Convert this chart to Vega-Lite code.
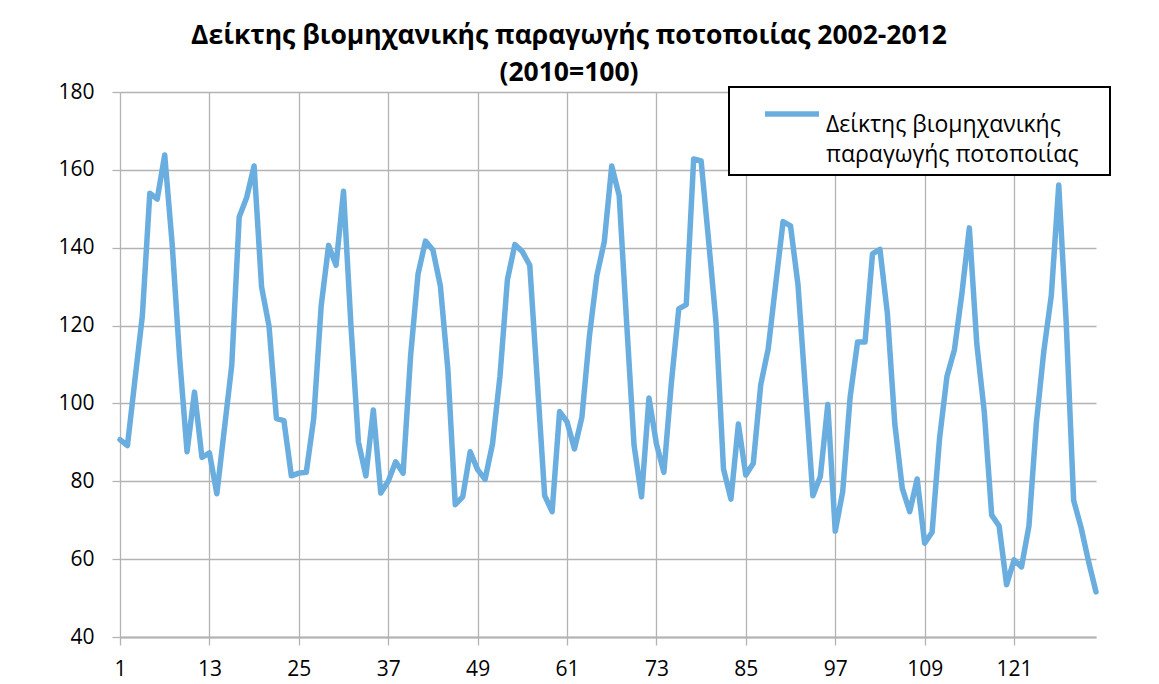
{
  "$schema": "https://vega.github.io/schema/vega-lite/v6.json",
  "width": 976,
  "height": 545,
  "autosize": {"type": "none"},
  "padding": {"left": 120, "top": 92, "right": 63, "bottom": 47},
  "background": "white",
  "title": {
    "text": ["Δείκτης βιομηχανικής παραγωγής ποτοποιίας 2002-2012", "(2010=100)"],
    "fontSize": 26.5,
    "fontWeight": "bold",
    "font": "Open Sans",
    "color": "black",
    "anchor": "middle",
    "dx": -39,
    "lineHeight": 37,
    "offset": -5
  },
  "data": {
    "values": [
      {"m": 1, "v": 90.7, "s": "Δείκτης βιομηχανικής παραγωγής ποτοποιίας"},
      {"m": 2, "v": 89.2, "s": "Δείκτης βιομηχανικής παραγωγής ποτοποιίας"},
      {"m": 3, "v": 106, "s": "Δείκτης βιομηχανικής παραγωγής ποτοποιίας"},
      {"m": 4, "v": 122.5, "s": "Δείκτης βιομηχανικής παραγωγής ποτοποιίας"},
      {"m": 5, "v": 154, "s": "Δείκτης βιομηχανικής παραγωγής ποτοποιίας"},
      {"m": 6, "v": 152.5, "s": "Δείκτης βιομηχανικής παραγωγής ποτοποιίας"},
      {"m": 7, "v": 163.8, "s": "Δείκτης βιομηχανικής παραγωγής ποτοποιίας"},
      {"m": 8, "v": 141, "s": "Δείκτης βιομηχανικής παραγωγής ποτοποιίας"},
      {"m": 9, "v": 111.7, "s": "Δείκτης βιομηχανικής παραγωγής ποτοποιίας"},
      {"m": 10, "v": 87.6, "s": "Δείκτης βιομηχανικής παραγωγής ποτοποιίας"},
      {"m": 11, "v": 102.9, "s": "Δείκτης βιομηχανικής παραγωγής ποτοποιίας"},
      {"m": 12, "v": 86.1, "s": "Δείκτης βιομηχανικής παραγωγής ποτοποιίας"},
      {"m": 13, "v": 87.3, "s": "Δείκτης βιομηχανικής παραγωγής ποτοποιίας"},
      {"m": 14, "v": 76.8, "s": "Δείκτης βιομηχανικής παραγωγής ποτοποιίας"},
      {"m": 15, "v": 93.3, "s": "Δείκτης βιομηχανικής παραγωγής ποτοποιίας"},
      {"m": 16, "v": 109.8, "s": "Δείκτης βιομηχανικής παραγωγής ποτοποιίας"},
      {"m": 17, "v": 147.9, "s": "Δείκτης βιομηχανικής παραγωγής ποτοποιίας"},
      {"m": 18, "v": 152.9, "s": "Δείκτης βιομηχανικής παραγωγής ποτοποιίας"},
      {"m": 19, "v": 161, "s": "Δείκτης βιομηχανικής παραγωγής ποτοποιίας"},
      {"m": 20, "v": 130, "s": "Δείκτης βιομηχανικής παραγωγής ποτοποιίας"},
      {"m": 21, "v": 119.9, "s": "Δείκτης βιομηχανικής παραγωγής ποτοποιίας"},
      {"m": 22, "v": 96.1, "s": "Δείκτης βιομηχανικής παραγωγής ποτοποιίας"},
      {"m": 23, "v": 95.6, "s": "Δείκτης βιομηχανικής παραγωγής ποτοποιίας"},
      {"m": 24, "v": 81.4, "s": "Δείκτης βιομηχανικής παραγωγής ποτοποιίας"},
      {"m": 25, "v": 82.1, "s": "Δείκτης βιομηχανικής παραγωγής ποτοποιίας"},
      {"m": 26, "v": 82.3, "s": "Δείκτης βιομηχανικής παραγωγής ποτοποιίας"},
      {"m": 27, "v": 96.1, "s": "Δείκτης βιομηχανικής παραγωγής ποτοποιίας"},
      {"m": 28, "v": 125, "s": "Δείκτης βιομηχανικής παραγωγής ποτοποιίας"},
      {"m": 29, "v": 140.6, "s": "Δείκτης βιομηχανικής παραγωγής ποτοποιίας"},
      {"m": 30, "v": 135.5, "s": "Δείκτης βιομηχανικής παραγωγής ποτοποιίας"},
      {"m": 31, "v": 154.5, "s": "Δείκτης βιομηχανικής παραγωγής ποτοποιίας"},
      {"m": 32, "v": 120, "s": "Δείκτης βιομηχανικής παραγωγής ποτοποιίας"},
      {"m": 33, "v": 90.1, "s": "Δείκτης βιομηχανικής παραγωγής ποτοποιίας"},
      {"m": 34, "v": 81.4, "s": "Δείκτης βιομηχανικής παραγωγής ποτοποιίας"},
      {"m": 35, "v": 98.3, "s": "Δείκτης βιομηχανικής παραγωγής ποτοποιίας"},
      {"m": 36, "v": 77, "s": "Δείκτης βιομηχανικής παραγωγής ποτοποιίας"},
      {"m": 37, "v": 80, "s": "Δείκτης βιομηχανικής παραγωγής ποτοποιίας"},
      {"m": 38, "v": 85, "s": "Δείκτης βιομηχανικής παραγωγής ποτοποιίας"},
      {"m": 39, "v": 82.1, "s": "Δείκτης βιομηχανικής παραγωγής ποτοποιίας"},
      {"m": 40, "v": 112.1, "s": "Δείκτης βιομηχανικής παραγωγής ποτοποιίας"},
      {"m": 41, "v": 133.2, "s": "Δείκτης βιομηχανικής παραγωγής ποτοποιίας"},
      {"m": 42, "v": 141.7, "s": "Δείκτης βιομηχανικής παραγωγής ποτοποιίας"},
      {"m": 43, "v": 139.4, "s": "Δείκτης βιομηχανικής παραγωγής ποτοποιίας"},
      {"m": 44, "v": 130.2, "s": "Δείκτης βιομηχανικής παραγωγής ποτοποιίας"},
      {"m": 45, "v": 108.9, "s": "Δείκτης βιομηχανικής παραγωγής ποτοποιίας"},
      {"m": 46, "v": 74, "s": "Δείκτης βιομηχανικής παραγωγής ποτοποιίας"},
      {"m": 47, "v": 76, "s": "Δείκτης βιομηχανικής παραγωγής ποτοποιίας"},
      {"m": 48, "v": 87.6, "s": "Δείκτης βιομηχανικής παραγωγής ποτοποιίας"},
      {"m": 49, "v": 83, "s": "Δείκτης βιομηχανικής παραγωγής ποτοποιίας"},
      {"m": 50, "v": 80.5, "s": "Δείκτης βιομηχανικής παραγωγής ποτοποιίας"},
      {"m": 51, "v": 89.6, "s": "Δείκτης βιομηχανικής παραγωγής ποτοποιίας"},
      {"m": 52, "v": 107, "s": "Δείκτης βιομηχανικής παραγωγής ποτοποιίας"},
      {"m": 53, "v": 131.8, "s": "Δείκτης βιομηχανικής παραγωγής ποτοποιίας"},
      {"m": 54, "v": 140.8, "s": "Δείκτης βιομηχανικής παραγωγής ποτοποιίας"},
      {"m": 55, "v": 139, "s": "Δείκτης βιομηχανικής παραγωγής ποτοποιίας"},
      {"m": 56, "v": 135.5, "s": "Δείκτης βιομηχανικής παραγωγής ποτοποιίας"},
      {"m": 57, "v": 106, "s": "Δείκτης βιομηχανικής παραγωγής ποτοποιίας"},
      {"m": 58, "v": 76.3, "s": "Δείκτης βιομηχανικής παραγωγής ποτοποιίας"},
      {"m": 59, "v": 72.2, "s": "Δείκτης βιομηχανικής παραγωγής ποτοποιίας"},
      {"m": 60, "v": 97.9, "s": "Δείκτης βιομηχανικής παραγωγής ποτοποιίας"},
      {"m": 61, "v": 95.3, "s": "Δείκτης βιομηχανικής παραγωγής ποτοποιίας"},
      {"m": 62, "v": 88.3, "s": "Δείκτης βιομηχανικής παραγωγής ποτοποιίας"},
      {"m": 63, "v": 96.5, "s": "Δείκτης βιομηχανικής παραγωγής ποτοποιίας"},
      {"m": 64, "v": 117.2, "s": "Δείκτης βιομηχανικής παραγωγής ποτοποιίας"},
      {"m": 65, "v": 132.8, "s": "Δείκτης βιομηχανικής παραγωγής ποτοποιίας"},
      {"m": 66, "v": 141.5, "s": "Δείκτης βιομηχανικής παραγωγής ποτοποιίας"},
      {"m": 67, "v": 161, "s": "Δείκτης βιομηχανικής παραγωγής ποτοποιίας"},
      {"m": 68, "v": 153.4, "s": "Δείκτης βιομηχανικής παραγωγής ποτοποιίας"},
      {"m": 69, "v": 120.8, "s": "Δείκτης βιομηχανικής παραγωγής ποτοποιίας"},
      {"m": 70, "v": 89.2, "s": "Δείκτης βιομηχανικής παραγωγής ποτοποιίας"},
      {"m": 71, "v": 76, "s": "Δείκτης βιομηχανικής παραγωγής ποτοποιίας"},
      {"m": 72, "v": 101.4, "s": "Δείκτης βιομηχανικής παραγωγής ποτοποιίας"},
      {"m": 73, "v": 89.6, "s": "Δείκτης βιομηχανικής παραγωγής ποτοποιίας"},
      {"m": 74, "v": 82.3, "s": "Δείκτης βιομηχανικής παραγωγής ποτοποιίας"},
      {"m": 75, "v": 105.2, "s": "Δείκτης βιομηχανικής παραγωγής ποτοποιίας"},
      {"m": 76, "v": 124.3, "s": "Δείκτης βιομηχανικής παραγωγής ποτοποιίας"},
      {"m": 77, "v": 125.4, "s": "Δείκτης βιομηχανικής παραγωγής ποτοποιίας"},
      {"m": 78, "v": 162.8, "s": "Δείκτης βιομηχανικής παραγωγής ποτοποιίας"},
      {"m": 79, "v": 162.3, "s": "Δείκτης βιομηχανικής παραγωγής ποτοποιίας"},
      {"m": 80, "v": 141.9, "s": "Δείκτης βιομηχανικής παραγωγής ποτοποιίας"},
      {"m": 81, "v": 120.8, "s": "Δείκτης βιομηχανικής παραγωγής ποτοποιίας"},
      {"m": 82, "v": 83.2, "s": "Δείκτης βιομηχανικής παραγωγής ποτοποιίας"},
      {"m": 83, "v": 75.4, "s": "Δείκτης βιομηχανικής παραγωγής ποτοποιίας"},
      {"m": 84, "v": 94.7, "s": "Δείκτης βιομηχανικής παραγωγής ποτοποιίας"},
      {"m": 85, "v": 81.6, "s": "Δείκτης βιομηχανικής παραγωγής ποτοποιίας"},
      {"m": 86, "v": 84.6, "s": "Δείκτης βιομηχανικής παραγωγής ποτοποιίας"},
      {"m": 87, "v": 104.8, "s": "Δείκτης βιομηχανικής παραγωγής ποτοποιίας"},
      {"m": 88, "v": 114, "s": "Δείκτης βιομηχανικής παραγωγής ποτοποιίας"},
      {"m": 89, "v": 130.5, "s": "Δείκτης βιομηχανικής παραγωγής ποτοποιίας"},
      {"m": 90, "v": 146.7, "s": "Δείκτης βιομηχανικής παραγωγής ποτοποιίας"},
      {"m": 91, "v": 145.6, "s": "Δείκτης βιομηχανικής παραγωγής ποτοποιίας"},
      {"m": 92, "v": 130.5, "s": "Δείκτης βιομηχανικής παραγωγής ποτοποιίας"},
      {"m": 93, "v": 103.4, "s": "Δείκτης βιομηχανικής παραγωγής ποτοποιίας"},
      {"m": 94, "v": 76.3, "s": "Δείκτης βιομηχανικής παραγωγής ποτοποιίας"},
      {"m": 95, "v": 81.2, "s": "Δείκτης βιομηχανικής παραγωγής ποτοποιίας"},
      {"m": 96, "v": 99.7, "s": "Δείκτης βιομηχανικής παραγωγής ποτοποιίας"},
      {"m": 97, "v": 67.2, "s": "Δείκτης βιομηχανικής παραγωγής ποτοποιίας"},
      {"m": 98, "v": 77.3, "s": "Δείκτης βιομηχανικής παραγωγής ποτοποιίας"},
      {"m": 99, "v": 101.6, "s": "Δείκτης βιομηχανικής παραγωγής ποτοποιίας"},
      {"m": 100, "v": 115.8, "s": "Δείκτης βιομηχανικής παραγωγής ποτοποιίας"},
      {"m": 101, "v": 115.8, "s": "Δείκτης βιομηχανικής παραγωγής ποτοποιίας"},
      {"m": 102, "v": 138.4, "s": "Δείκτης βιομηχανικής παραγωγής ποτοποιίας"},
      {"m": 103, "v": 139.6, "s": "Δείκτης βιομηχανικής παραγωγής ποτοποιίας"},
      {"m": 104, "v": 123.1, "s": "Δείκτης βιομηχανικής παραγωγής ποτοποιίας"},
      {"m": 105, "v": 94.7, "s": "Δείκτης βιομηχανικής παραγωγής ποτοποιίας"},
      {"m": 106, "v": 78.2, "s": "Δείκτης βιομηχανικής παραγωγής ποτοποιίας"},
      {"m": 107, "v": 72.2, "s": "Δείκτης βιομηχανικής παραγωγής ποτοποιίας"},
      {"m": 108, "v": 80.6, "s": "Δείκτης βιομηχανικής παραγωγής ποτοποιίας"},
      {"m": 109, "v": 64.1, "s": "Δείκτης βιομηχανικής παραγωγής ποτοποιίας"},
      {"m": 110, "v": 66.9, "s": "Δείκτης βιομηχανικής παραγωγής ποτοποιίας"},
      {"m": 111, "v": 91, "s": "Δείκτης βιομηχανικής παραγωγής ποτοποιίας"},
      {"m": 112, "v": 107, "s": "Δείκτης βιομηχανικής παραγωγής ποτοποιίας"},
      {"m": 113, "v": 113.8, "s": "Δείκτης βιομηχανικής παραγωγής ποτοποιίας"},
      {"m": 114, "v": 128.2, "s": "Δείκτης βιομηχανικής παραγωγής ποτοποιίας"},
      {"m": 115, "v": 145.1, "s": "Δείκτης βιομηχανικής παραγωγής ποτοποιίας"},
      {"m": 116, "v": 115.3, "s": "Δείκτης βιομηχανικής παραγωγής ποτοποιίας"},
      {"m": 117, "v": 97.9, "s": "Δείκτης βιομηχανικής παραγωγής ποτοποιίας"},
      {"m": 118, "v": 71.3, "s": "Δείκτης βιομηχανικής παραγωγής ποτοποιίας"},
      {"m": 119, "v": 68.5, "s": "Δείκτης βιομηχανικής παραγωγής ποτοποιίας"},
      {"m": 120, "v": 53.4, "s": "Δείκτης βιομηχανικής παραγωγής ποτοποιίας"},
      {"m": 121, "v": 59.8, "s": "Δείκτης βιομηχανικής παραγωγής ποτοποιίας"},
      {"m": 122, "v": 58, "s": "Δείκτης βιομηχανικής παραγωγής ποτοποιίας"},
      {"m": 123, "v": 68.5, "s": "Δείκτης βιομηχανικής παραγωγής ποτοποιίας"},
      {"m": 124, "v": 95.1, "s": "Δείκτης βιομηχανικής παραγωγής ποτοποιίας"},
      {"m": 125, "v": 113.5, "s": "Δείκτης βιομηχανικής παραγωγής ποτοποιίας"},
      {"m": 126, "v": 127.7, "s": "Δείκτης βιομηχανικής παραγωγής ποτοποιίας"},
      {"m": 127, "v": 156.1, "s": "Δείκτης βιομηχανικής παραγωγής ποτοποιίας"},
      {"m": 128, "v": 120.8, "s": "Δείκτης βιομηχανικής παραγωγής ποτοποιίας"},
      {"m": 129, "v": 75.1, "s": "Δείκτης βιομηχανικής παραγωγής ποτοποιίας"},
      {"m": 130, "v": 68.1, "s": "Δείκτης βιομηχανικής παραγωγής ποτοποιίας"},
      {"m": 131, "v": 59.4, "s": "Δείκτης βιομηχανικής παραγωγής ποτοποιίας"},
      {"m": 132, "v": 51.6, "s": "Δείκτης βιομηχανικής παραγωγής ποτοποιίας"}
    ]
  },
  "mark": {"type": "line", "strokeWidth": 5.5, "strokeCap": "round", "strokeJoin": "round"},
  "encoding": {
    "x": {
      "field": "m",
      "type": "quantitative",
      "scale": {"domain": [1, 132], "nice": false, "zero": false},
      "axis": {
        "values": [1, 13, 25, 37, 49, 61, 73, 85, 97, 109, 121],
        "title": null,
        "grid": true,
        "gridColor": "#b3b3b3",
        "gridWidth": 1.3,
        "domainColor": "#b3b3b3",
        "domainWidth": 2,
        "tickColor": "#b3b3b3",
        "tickSize": 8,
        "tickWidth": 1.3,
        "labelFont": "Open Sans",
        "labelFontSize": 21,
        "labelColor": "black",
        "labelPadding": 13,
        "labelFlush": false
      }
    },
    "y": {
      "field": "v",
      "type": "quantitative",
      "scale": {"domain": [40, 180], "nice": false, "zero": false},
      "axis": {
        "values": [40, 60, 80, 100, 120, 140, 160, 180],
        "title": null,
        "grid": true,
        "gridColor": "#b3b3b3",
        "gridWidth": 1.3,
        "domain": false,
        "tickColor": "#b3b3b3",
        "tickSize": 8,
        "tickWidth": 1.3,
        "labelFont": "Open Sans",
        "labelFontSize": 21,
        "labelColor": "black",
        "labelPadding": 18
      }
    },
    "color": {
      "field": "s",
      "type": "nominal",
      "scale": {"range": ["#6AAEDF"]},
      "legend": {
        "orient": "none",
        "legendX": 609,
        "legendY": -5,
        "title": "\u00a0",
        "titleOrient": "right",
        "titlePadding": 24,
        "titleFontSize": 4,
        "clipHeight": 38,
        "symbolType": "stroke",
        "symbolStrokeWidth": 5.5,
        "symbolSize": 2916,
        "symbolOffset": 25,
        "labelOffset": 4,
        "labelFont": "Open Sans",
        "labelFontSize": 23,
        "labelColor": "black",
        "labelLimit": 600,
        "labelBaseline": "top",
        "labelExpr": "['Δείκτης βιομηχανικής', 'παραγωγής ποτοποιίας']",
        "strokeColor": "black",
        "fillColor": "white",
        "padding": 8
      }
    }
  },
  "config": {
    "view": {"stroke": null},
    "legend": {"strokeWidth": 2},
    "style": {"guide-label": {"lineHeight": 30}}
  }
}
